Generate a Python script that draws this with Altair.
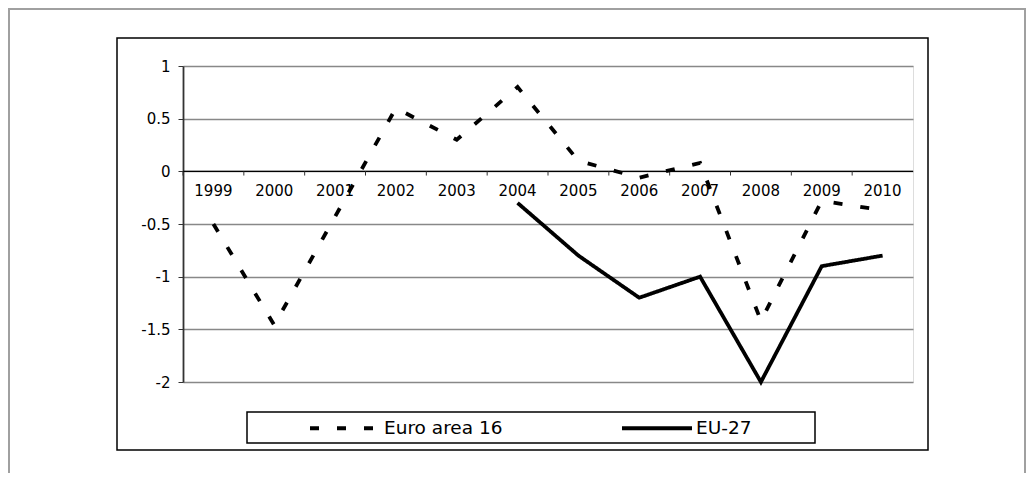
import altair as alt
import pandas as pd

years = ["1999", "2000", "2001", "2002", "2003", "2004", "2005", "2006", "2007", "2008", "2009", "2010"]
euro_area_16 = [-0.5, -1.46, -0.43, 0.6, 0.3, 0.8, 0.1, -0.06, 0.08, -1.42, -0.28, -0.37]
eu_27_years = ["2004", "2005", "2006", "2007", "2008", "2009", "2010"]
eu_27 = [-0.3, -0.8, -1.2, -1.0, -2.0, -0.9, -0.8]
series_names = ["Euro area 16", "EU-27"]
y_ticks = [-2, -1.5, -1, -0.5, 0, 0.5, 1]

rows = [{"series": series_names[0], "year": y, "value": v} for y, v in zip(years, euro_area_16)]
rows += [{"series": series_names[1], "year": y, "value": v} for y, v in zip(eu_27_years, eu_27)]
df = pd.DataFrame(rows)
df_years = pd.DataFrame({"year": years})

W, H = 730, 316
FONT = "DejaVu Sans"

xscale = alt.Scale(type="band", domain=years, paddingInner=0, paddingOuter=0)
yscale = alt.Scale(domain=[-2, 1], nice=False, zero=False)
yaxis = alt.Axis(title=None, values=y_ticks, labelExpr="datum.value + ''", grid=True,
                 tickSize=5, labelPadding=8, domainColor="#333", domainWidth=1.8,
                 tickColor="#333", gridColor="#888", gridWidth=1.3,
                 labelFont=FONT, labelFontSize=15, labelColor="black")

dummy = pd.DataFrame({"k": [0]})

outer = alt.Chart(dummy).mark_rect(filled=False, stroke="#a0a0a0", strokeWidth=2).encode(
    x=alt.value(-174), x2=alt.value(842), y=alt.value(-57), y2=alt.value(425))
inner = alt.Chart(dummy).mark_rect(filled=False, stroke="black", strokeWidth=1.5).encode(
    x=alt.value(-66), x2=alt.value(745), y=alt.value(-28), y2=alt.value(384))
legbox = alt.Chart(dummy).mark_rect(filled=False, stroke="black", strokeWidth=1.5).encode(
    x=alt.value(64), x2=alt.value(632), y=alt.value(346), y2=alt.value(377))

# category axis drawn on the zero line
zero_line = alt.Chart(dummy).mark_rule(color="black", strokeWidth=1.2).encode(
    y=alt.datum(0, scale=yscale, axis=yaxis))
ticks = alt.Chart(df_years).mark_rule(color="#333", strokeWidth=1).encode(
    x=alt.X("year:O", bandPosition=0, scale=xscale, axis=None),
    y=alt.datum(0, scale=yscale, axis=yaxis), y2=alt.datum(-0.04))
labels = alt.Chart(df_years).mark_text(font=FONT, fontSize=15, color="black", dy=20).encode(
    x=alt.X("year:O", bandPosition=0.5, scale=xscale, axis=None),
    y=alt.datum(0, scale=yscale, axis=yaxis), text="year:N")

lines = alt.Chart(df).mark_line(color="black", strokeWidth=3.8).encode(
    x=alt.X("year:O", sort=years, bandPosition=0.5, scale=xscale, axis=None),
    y=alt.Y("value:Q", scale=yscale, axis=yaxis),
    strokeDash=alt.StrokeDash("series:N",
                              scale=alt.Scale(domain=series_names, range=[[9, 18], [1, 0]]),
                              legend=alt.Legend(title=None, orient="none", legendX=125, legendY=325,
                                                direction="horizontal", symbolType="stroke",
                                                symbolSize=4900, symbolStrokeWidth=4,
                                                symbolStrokeColor="black", labelFont=FONT,
                                                labelFontSize=18.5, labelColor="black",
                                                labelOffset=2, columnPadding=111, padding=0)),
    detail="series:N",
)

chart = alt.layer(outer, inner, legbox, zero_line, ticks, labels, lines).properties(
    width=W, height=H,
    autosize=alt.AutoSizeParams(type="none"),
    padding={"left": 175, "top": 58, "right": 113, "bottom": 91},
).configure_view(stroke="#888", strokeWidth=1.5).configure(background="white")

chart.save("out.html", embed_options={"renderer": "svg", "actions": False})
